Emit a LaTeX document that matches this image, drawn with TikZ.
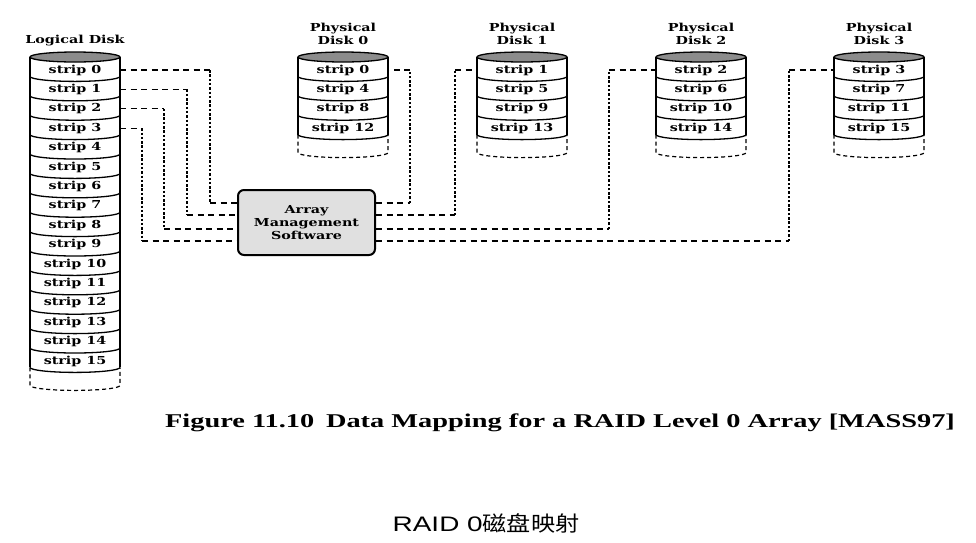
\documentclass[tikz,border=0pt]{standalone}
\usepackage{fontspec}
\newfontfamily\lblfont{DejaVu Serif}[FakeStretch=1.3]
\newfontfamily\capfont{Liberation Serif}[FakeStretch=1.455]
\newfontfamily\sansf{Liberation Sans}[FakeStretch=1.33]
\newfontfamily\cjkf{Noto Sans CJK SC}[FakeStretch=1.15]
\definecolor{topgray}{gray}{0.55}
\definecolor{boxgray}{gray}{0.88}
\begin{document}
\begin{tikzpicture}[x=1pt,y=-1pt,
  lbl/.style={font=\lblfont\bfseries\fontsize{11}{13}\selectfont, inner sep=0pt, align=center},
  stripnode/.style={lbl, minimum width=90pt, minimum height=14pt},
  cyl/.style={line width=1.3pt},
  cyldash/.style={line width=1.2pt, dash pattern=on 4pt off 3pt},
  hd/.style={line width=1.2pt, dash pattern=on 6pt off 4.5pt},
  vd/.style={line width=1.4pt, dash pattern=on 2.5pt off 1.8pt},
  amsbox/.style={lbl, draw, line width=2pt, rounded corners=6pt, fill=boxgray, minimum width=137pt, minimum height=65pt}]
\useasboundingbox (0,0) rectangle (976,542);
% cylinders
\foreach \cx/\n in {75/16,343/4,522/4,701/4,879/4} {
  \pgfmathsetmacro\yb{57+19.4*\n}
  \draw[cyl] (\cx-45,57) -- (\cx-45,\yb);
  \draw[cyl] (\cx+45,57) -- (\cx+45,\yb);
  \draw[cyl, fill=topgray] (\cx,57) ellipse [x radius=45, y radius=5];
  \foreach \i in {1,...,\n}
    \draw[cyl] (\cx-45,{57+19.4*\i}) arc[start angle=180, end angle=0, x radius=45, y radius=5];
  \draw[cyldash] (\cx-45,\yb) -- (\cx-45,\yb+18) arc[start angle=180, end angle=0, x radius=45, y radius=5] -- (\cx+45,\yb);
}
% logical strips
\foreach \i in {0,...,15}
  \node[stripnode] (l\i) at (75,{70+19.4*\i}) {strip \i};
% physical strips
\foreach \d/\cx in {0/343,1/522,2/701,3/879} {
  \foreach \r in {0,...,3} {
    \pgfmathtruncatemacro\s{4*\r+\d}
    \node[stripnode] (p\d-\r) at (\cx,{70+19.4*\r}) {strip \s};
  }
  \node[lbl] (pl\d) at (\cx,33.5) {Physical\\Disk \d};
}
\node[lbl] (ldl) at (75,41) {Logical Disk};
% array management box
\node[amsbox] (ams) at (306.5,222.5) {Array\\Management\\Software};
% left connectors
\foreach \i/\x/\y in {0/210/203,1/187/215,2/164/229,3/142/241} {
  \coordinate (k\i) at (\x,\y);
  \draw[hd] (l\i.east) -- (l\i.east -| k\i);
  \draw[vd] (l\i.east -| k\i) -- (k\i);
  \draw[hd] (k\i) -- (k\i -| ams.west);
}
% right connectors
\coordinate (m0) at (410,203);
\draw[hd] (ams.east |- m0) -- (m0);
\draw[vd] (m0) -- (m0 |- p0-0.east);
\draw[hd] (m0 |- p0-0.east) -- (p0-0.east);
\foreach \d/\x/\y in {1/455/215,2/609/229,3/789/241} {
  \coordinate (m\d) at (\x,\y);
  \draw[hd] (ams.east |- m\d) -- (m\d);
  \draw[vd] (m\d) -- (m\d |- p\d-0.west);
  \draw[hd] (m\d |- p\d-0.west) -- (p\d-0.west);
}
% captions
\node[font=\capfont\bfseries\fontsize{19.5}{22}\selectfont, inner sep=0pt] (cap) at (560,423) {Figure 11.10\hspace{0.6em}Data Mapping for a RAID Level 0 Array [MASS97]};
\node[inner sep=0pt] (sub) at (486,523) {\sansf\fontsize{21}{25}\selectfont RAID 0\cjkf 磁盘映射};
\end{tikzpicture}
\end{document}
